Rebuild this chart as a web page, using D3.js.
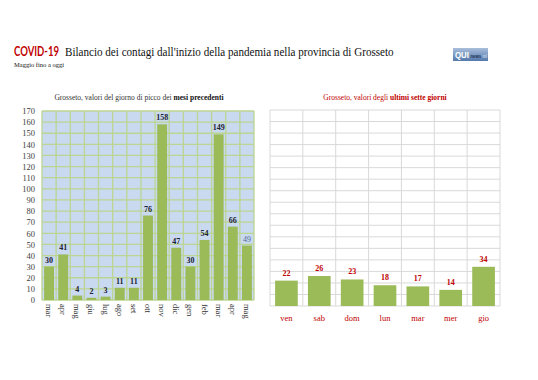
<!DOCTYPE html>
<html><head><meta charset="utf-8">
<script src="https://cdn.jsdelivr.net/npm/d3@7"></script>
<style>body{margin:0;background:#fff;} svg{display:block;}</style>
</head><body>
<script>
const monthLabels = ["mar","apr","mag","giu","lug","ago","set","ott","nov","dic","gen","feb","mar","apr","mag"];
const monthValues = [30,41,4,2,3,11,11,76,158,47,30,54,149,66,49];
const dayLabels = ["ven","sab","dom","lun","mar","mer","gio"];
const dayValues = [22,26,23,18,17,14,34];
const yTicks = d3.range(0,171,10);

const W=538,H=380;
const svg=d3.select("body").append("svg").attr("width",W).attr("height",H);
const serif="'Liberation Serif','DejaVu Serif',serif";
const red="#c00000";

// fit a text horizontally into a given width via a scale transform
function fitText(x,y,width,str,attrs){
  const g=svg.append("g");
  const t=g.append("text").text(str);
  Object.entries(attrs).forEach(([k,v])=>t.attr(k,v));
  const w=t.node().getComputedTextLength();
  const sx=Math.min(1,width/w);
  g.attr("transform",`translate(${x},${y}) scale(${sx},1)`);
  return t;
}

// Title
fitText(14,56,45,"COVID-19",{"font-family":"Lato,'Liberation Sans',sans-serif","font-weight":"bold","font-size":13,"fill":red});
fitText(65,56,329,"Bilancio dei contagi dall'inizio della pandemia nella provincia di Grosseto",{"font-family":serif,"font-size":13.5,"fill":"#111"});
svg.append("text").attr("x",14).attr("y",67).text("Maggio fino a oggi").attr("font-family",serif).attr("font-size",6.5).attr("fill","#111");

// Logo
const grad=svg.append("defs").append("linearGradient").attr("id","lg").attr("x1",0).attr("y1",0).attr("x2",0).attr("y2",1);
grad.append("stop").attr("offset","0%").attr("stop-color","#a9bedb");
grad.append("stop").attr("offset","100%").attr("stop-color","#5479ab");
svg.append("rect").attr("x",453).attr("y",48).attr("width",35).attr("height",13).attr("fill","url(#lg)");
fitText(455,58,14,"QUI",{"font-family":"'Liberation Sans',sans-serif","font-weight":"bold","font-size":8.5,"fill":"#fff"});
fitText(470.5,58,10.5,"news",{"font-family":"'Liberation Sans',sans-serif","font-weight":"bold","font-size":5.5,"fill":"#1d3557"});
fitText(482.5,58,4.5,"ml",{"font-family":"'Liberation Sans',sans-serif","font-size":5,"fill":"#dce6f2"});

// Left chart
const L={x0:42,x1:254,y0:111,y1:300};
const xL=d3.scaleBand().domain(d3.range(monthLabels.length)).range([L.x0,L.x1]).paddingInner(0.3).paddingOuter(0.15);
const yL=d3.scaleLinear().domain([0,170]).range([L.y1,L.y0]);
svg.append("rect").attr("x",L.x0).attr("y",L.y0).attr("width",L.x1-L.x0).attr("height",L.y1-L.y0).attr("fill","#c9d9ef");
const gl=svg.append("g");
const bw=(L.x1-L.x0)/monthLabels.length;
gl.selectAll("line.h").data(yTicks).join("line").attr("x1",L.x0).attr("x2",L.x1).attr("y1",d=>yL(d)).attr("y2",d=>yL(d)).attr("stroke","#bcd592").attr("stroke-width",1.3);
gl.selectAll("line.v").data(d3.range(monthLabels.length+1)).join("line").attr("x1",i=>L.x0+i*bw).attr("x2",i=>L.x0+i*bw).attr("y1",L.y0).attr("y2",L.y1).attr("stroke","#bcd592").attr("stroke-width",1.3);
svg.append("g").selectAll("rect").data(monthValues).join("rect")
  .attr("x",(d,i)=>xL(i)).attr("width",xL.bandwidth()).attr("y",d=>yL(d)).attr("height",d=>yL(0)-yL(d)).attr("fill","#9bbb59");
svg.append("g").selectAll("text").data(monthValues).join("text")
  .attr("x",(d,i)=>xL(i)+xL.bandwidth()/2).attr("y",d=>yL(d)-4).attr("text-anchor","middle")
  .attr("font-family",serif).attr("font-weight",(d,i)=>i===monthValues.length-1?"normal":"bold").attr("font-size",8)
  .attr("fill",(d,i)=>i===monthValues.length-1?"#4f6a94":"#1a2233").text(d=>d);
const ay=d3.axisLeft(yL).tickValues(yTicks).tickSize(0).tickPadding(7);
const gay=svg.append("g").attr("transform",`translate(${L.x0},0)`).call(ay);
gay.select(".domain").remove();
gay.selectAll("text").attr("font-family",serif).attr("font-size",8.5).attr("fill","#404040");
const ax=d3.axisBottom(xL).tickFormat(i=>monthLabels[i]).tickSize(0);
const gax=svg.append("g").attr("transform",`translate(0,${L.y1})`).call(ax);
gax.select(".domain").remove();
gax.selectAll("text").attr("transform","rotate(90)").attr("text-anchor","start").attr("x",4).attr("y",0).attr("dy","0.35em")
  .attr("font-family",serif).attr("font-size",8.5).attr("fill","#333");
svg.append("text").attr("x",139).attr("y",100).attr("text-anchor","middle").attr("font-family",serif).attr("font-size",7.5).attr("fill","#333")
  .call(s=>{s.append("tspan").text("Grosseto, valori del giorno di picco dei ");s.append("tspan").text("mesi precedenti").attr("font-weight","bold").attr("fill","#111");});

// Right chart
const R={x0:270,x1:500,y0:110,y1:306};
const xR=d3.scaleBand().domain(d3.range(dayLabels.length)).range([R.x0,R.x1]).paddingInner(0.31).paddingOuter(0.155);
const yR=d3.scaleLinear().domain([0,170]).range([R.y1,R.y0]);
const bwr=(R.x1-R.x0)/dayLabels.length;
const gr=svg.append("g");
gr.selectAll("line.h").data(yTicks).join("line").attr("x1",R.x0).attr("x2",R.x1).attr("y1",d=>yR(d)).attr("y2",d=>yR(d)).attr("stroke","#d9d9d9").attr("stroke-width",1);
gr.selectAll("line.v").data(d3.range(dayLabels.length+1)).join("line").attr("x1",i=>R.x0+i*bwr).attr("x2",i=>R.x0+i*bwr).attr("y1",R.y0).attr("y2",R.y1).attr("stroke","#d9d9d9").attr("stroke-width",1);
svg.append("g").selectAll("rect").data(dayValues).join("rect")
  .attr("x",(d,i)=>xR(i)).attr("width",xR.bandwidth()).attr("y",d=>yR(d)).attr("height",d=>yR(0)-yR(d)).attr("fill","#9bbb59");
svg.append("g").selectAll("text").data(dayValues).join("text")
  .attr("x",(d,i)=>xR(i)+xR.bandwidth()/2).attr("y",d=>yR(d)-5).attr("text-anchor","middle")
  .attr("font-family",serif).attr("font-weight","bold").attr("font-size",8).attr("fill",red).text(d=>d);
const axr=d3.axisBottom(xR).tickFormat(i=>dayLabels[i]).tickSize(0).tickPadding(9);
const gaxr=svg.append("g").attr("transform",`translate(0,${R.y1})`).call(axr);
gaxr.select(".domain").remove();
gaxr.selectAll("text").attr("font-family",serif).attr("font-size",8.5).attr("fill",red);
svg.append("text").attr("x",385).attr("y",100).attr("text-anchor","middle").attr("font-family",serif).attr("font-size",7.5).attr("fill",red)
  .call(s=>{s.append("tspan").text("Grosseto, valori degli ");s.append("tspan").text("ultimi sette giorni").attr("font-weight","bold");});
</script>
</body></html>
